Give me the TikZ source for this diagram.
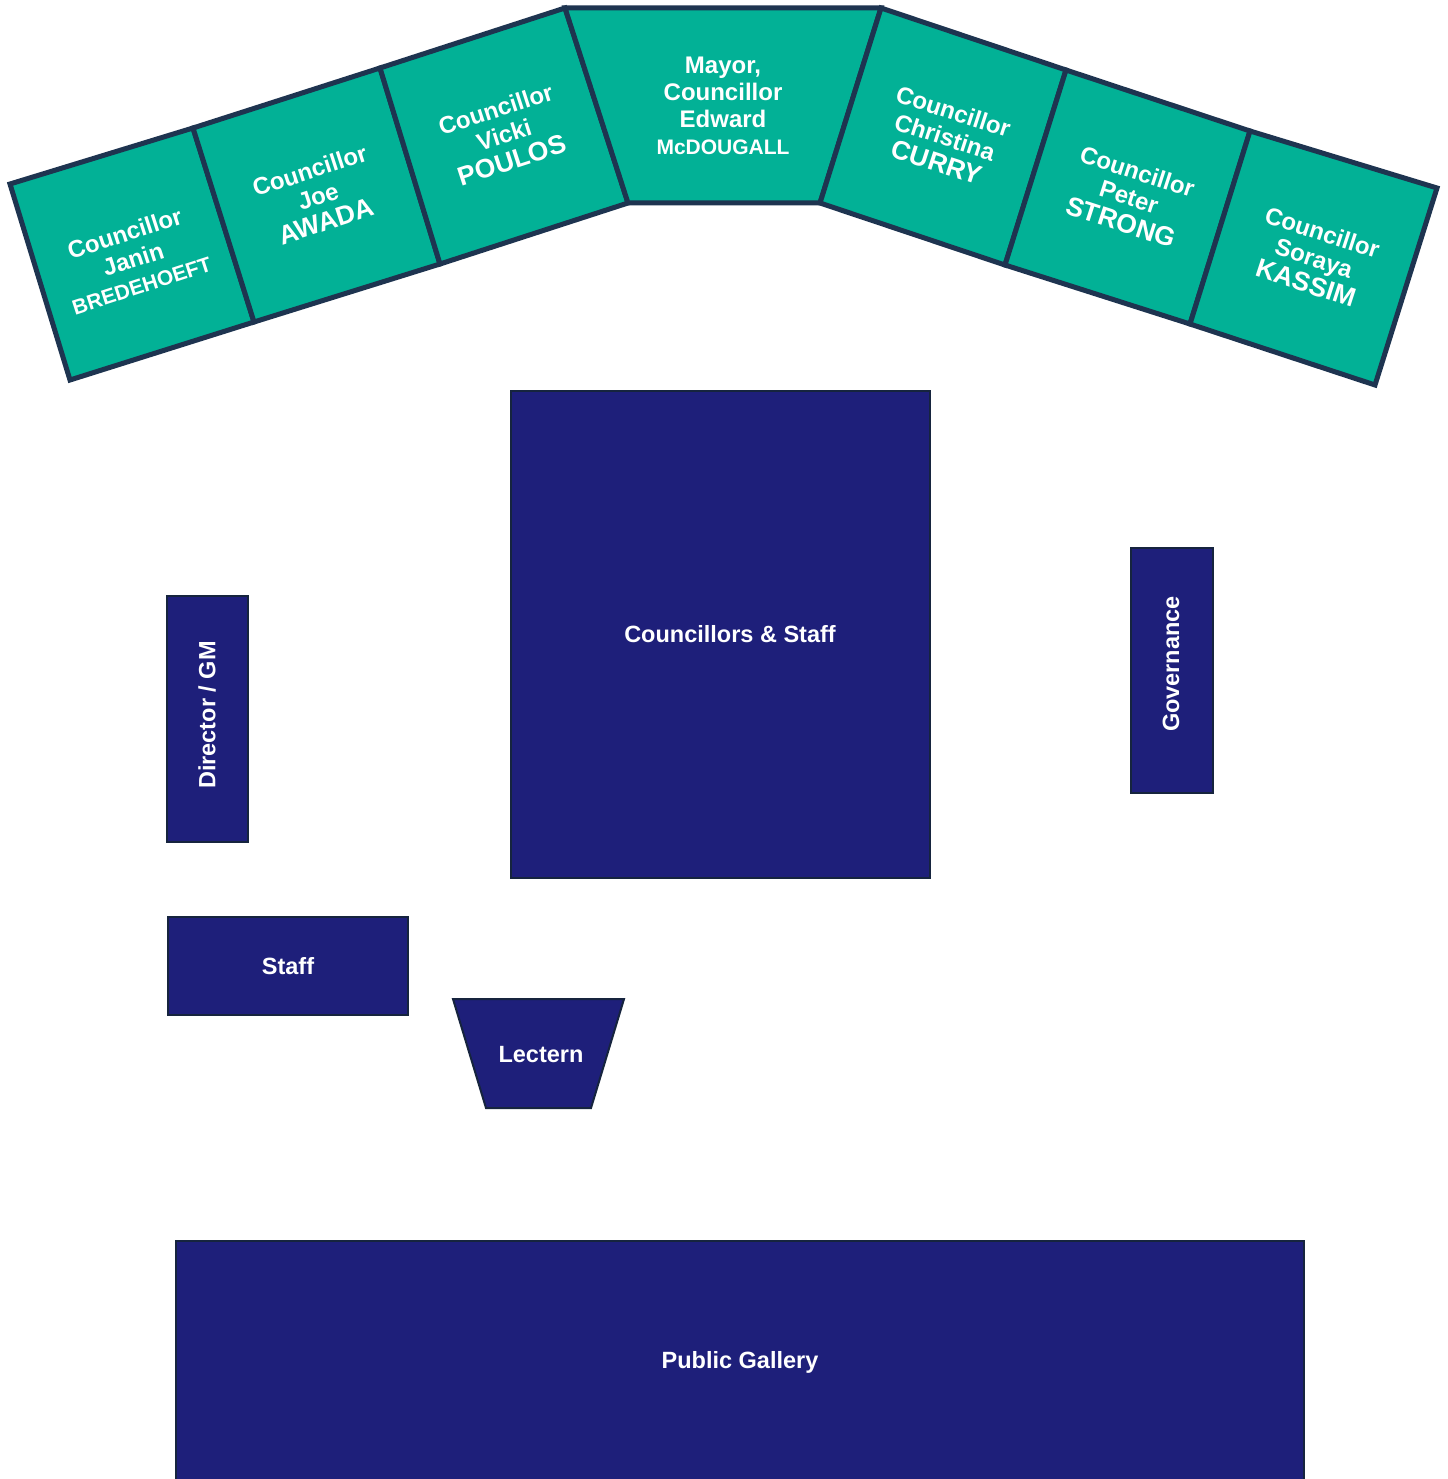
\documentclass[tikz,border=0pt]{standalone}
\usepackage{fontspec}
\setmainfont{Liberation Sans}
\definecolor{seatteal}{RGB}{2,177,150}
\definecolor{seatedge}{RGB}{30,52,80}
\definecolor{navyfill}{RGB}{30,31,122}
\definecolor{navyedge}{RGB}{22,36,62}
\tikzset{
  seatshape/.style={fill=seatteal, draw=seatedge, line width=5pt, line join=miter},
  navybox/.style={fill=navyfill, draw=navyedge, line width=2pt},
  seattext/.style={text=white, align=center, font=\bfseries\fontsize{24}{27}\selectfont, inner sep=0pt},
  lbl/.style={text=white, font=\bfseries\fontsize{23.5}{27}\selectfont, inner sep=0pt},
}
\newcommand{\bigname}[1]{{\fontsize{26.5}{28}\selectfont #1}}
\newcommand{\smallname}[1]{{\fontsize{21}{24}\selectfont #1}}
\begin{document}
\begin{tikzpicture}[x=1pt,y=-1pt]
\clip (0,0) rectangle (1447,1479);
\fill[white] (0,0) rectangle (1447,1479);

% seats
\draw[seatshape] (10,184) -- (193,128) -- (254,322) -- (70,380) -- cycle;
\draw[seatshape] (193,128) -- (380,68) -- (440,264) -- (254,322) -- cycle;
\draw[seatshape] (380,68) -- (565,8) -- (628,203) -- (440,264) -- cycle;
\draw[seatshape] (565,8) -- (881,8) -- (820,203) -- (628,203) -- cycle;
\draw[seatshape] (881,8) -- (1066,70) -- (1005,265) -- (820,203) -- cycle;
\draw[seatshape] (1066,70) -- (1250,131) -- (1190,324) -- (1005,265) -- cycle;
\draw[seatshape] (1250,131) -- (1437,188) -- (1375,385) -- (1190,324) -- cycle;

\node[seattext, rotate=18] (s1) at (133,259) {Councillor\\Janin\\\smallname{BREDEHOEFT}};
\node[seattext, rotate=18] (s2) at (318,196) {Councillor\\Joe\\\bigname{AWADA}};
\node[seattext, rotate=18] (s3) at (504,135) {Councillor\\Vicki\\\bigname{POULOS}};
\node[seattext] (s4) at (723,106) {Mayor,\\Councillor\\Edward\\\smallname{McDOUGALL}};
\node[seattext, rotate=-18] (s5) at (945,137) {Councillor\\Christina\\\bigname{CURRY}};
\node[seattext, rotate=-18] (s6) at (1129,197) {Councillor\\Peter\\\bigname{STRONG}};
\node[seattext, rotate=-18] (s7) at (1314,258) {Councillor\\Soraya\\\bigname{KASSIM}};

% floor items
\draw[navybox] (511,391) rectangle (930,878);
\node[lbl] (cs) at (730,634) {Councillors \& Staff};

\draw[navybox] (1131,548) rectangle (1213,793);
\node[lbl, rotate=90] (gov) at (1171,664) {Governance};

\draw[navybox] (167,596) rectangle (248,842);
\node[lbl, rotate=90] (dir) at (207,715) {Director / GM};

\draw[navybox] (168,917) rectangle (408,1015);
\node[lbl] (staff) at (288,966) {Staff};

\draw[navybox] (453,999) -- (624,999) -- (591,1108) -- (486,1108) -- cycle;
\node[lbl] (lect) at (541,1055) {Lectern};

\draw[navybox] (176,1241) rectangle (1304,1490);
\node[lbl] (pub) at (740,1362) {Public Gallery};
\end{tikzpicture}
\end{document}
